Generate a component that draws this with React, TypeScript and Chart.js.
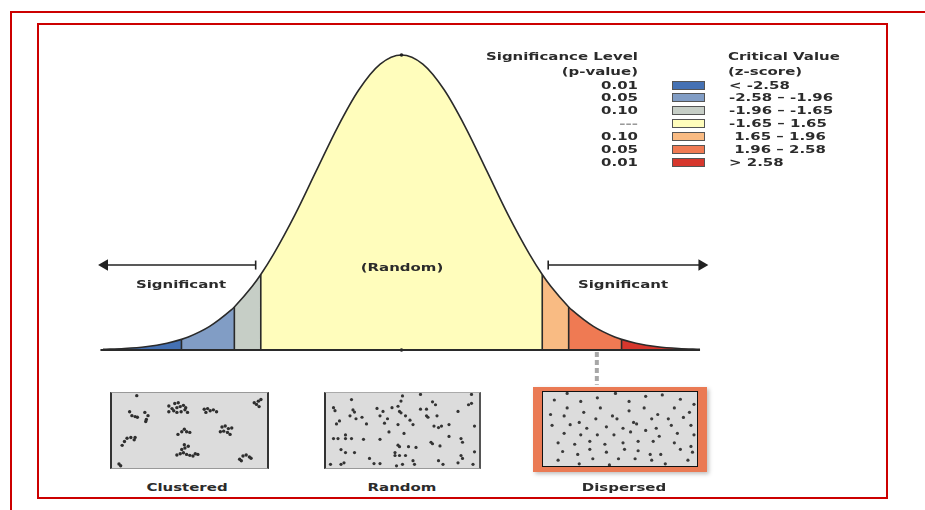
import React, { useEffect, useRef } from "react";
import { Chart, registerables } from "chart.js";
Chart.register(...registerables);

// ---------- data ----------
const zValues = [
  -3.5, -3.25, -3.0, -2.75, -2.58, -2.5, -2.25, -2.0, -1.96, -1.75, -1.65, -1.5, -1.25, -1.0, -0.75, -0.5, -0.25,
  0, 0.25, 0.5, 0.75, 1.0, 1.25, 1.5, 1.65, 1.75, 1.96, 2.0, 2.25, 2.5, 2.58, 2.75, 3.0, 3.25, 3.5,
];
const curveHeights = [
  0.002, 0.005, 0.011, 0.023, 0.036, 0.044, 0.08, 0.135, 0.146, 0.216, 0.256, 0.325, 0.458, 0.607, 0.755, 0.882, 0.969,
  1.0, 0.969, 0.882, 0.755, 0.607, 0.458, 0.325, 0.256, 0.216, 0.146, 0.135, 0.08, 0.044, 0.036, 0.023, 0.011, 0.005, 0.002,
];
const bandEdges = [-3.5, -2.58, -1.96, -1.65, 1.65, 1.96, 2.58, 3.5];
const bandColors = ["#4571b3", "#819dc5", "#c6cec6", "#fffdbc", "#f9bb83", "#ef7a53", "#d6372d"];
const pLabels = ["0.01", "0.05", "0.10", "---", "0.10", "0.05", "0.01"];
const zLabels = ["< -2.58", "-2.58 – -1.96", "-1.96 – -1.65", "-1.65 – 1.65", " 1.65 – 1.96", " 1.96 – 2.58", "> 2.58"];
const arrowLevel = 0.288;
const leftArrowZ = [-1.71, -3.48];
const rightArrowZ = [1.72, 3.52];
const connectorZ = 2.29;
const connectorLevels = [-0.007, -0.118];
const panelLabels = ["Clustered", "Random", "Dispersed"];

const clusteredPoints: number[][] = [
  [10.6, 75.4], [12.1, 70.2], [14.2, 68.9], [15.7, 68.0], [20.6, 74.6], [22.7, 70.2], [21.6, 64.9], [21.2, 62.3],
  [36.4, 83.3], [40.3, 86.8], [42.6, 87.7], [41.7, 81.1], [43.9, 82.5], [46.0, 84.2], [47.5, 81.1], [36.4, 75.4],
  [39.6, 76.8], [41.7, 74.6], [44.5, 75.4], [47.0, 78.1], [48.7, 74.6], [38.5, 79.8],
  [59.7, 79.0], [61.9, 79.8], [63.6, 76.8], [65.7, 78.1], [67.8, 75.4], [60.8, 74.6],
  [92.6, 87.7], [94.1, 85.5], [95.3, 89.9], [95.8, 82.5], [97.0, 92.1],
  [71.4, 54.8], [73.5, 56.1], [75.6, 52.6], [77.8, 53.5], [72.5, 49.1], [75.0, 47.4], [76.7, 44.7], [70.3, 48.2],
  [42.4, 44.7], [44.9, 48.2], [46.6, 51.8], [48.1, 48.2], [50.2, 47.4],
  [5.7, 29.8], [7.2, 35.1], [8.9, 39.5], [11.4, 40.4], [13.6, 37.3], [14.2, 40.4],
  [41.7, 16.7], [43.9, 18.4], [46.0, 19.7], [48.1, 17.5], [50.2, 16.2], [52.3, 15.4], [53.8, 18.4], [55.5, 17.5],
  [47.0, 26.3], [46.6, 30.7], [49.2, 28.5], [44.9, 24.1],
  [83.0, 11.0], [85.2, 15.4], [87.3, 16.7], [89.4, 14.1], [90.5, 12.3], [84.1, 8.8],
  [15.3, 97.4], [3.6, 4.4], [4.7, 2.0],
];
const randomPoints: number[][] = [
  [16, 92], [4, 81], [5, 77], [17, 78], [18, 75], [15, 70], [19, 66], [6, 59], [8, 63], [23, 68], [26, 59],
  [33, 80], [37, 76], [35, 70], [40, 66], [38, 60], [43, 81], [47, 83], [49, 90], [50, 97], [48, 76], [49, 74],
  [52, 70], [47, 58], [55, 64], [57, 58], [62, 99], [62, 79], [66, 79], [66, 70], [67, 68], [73, 70], [70, 89],
  [72, 85], [71, 56], [74, 54], [76, 56], [81, 58], [87, 76], [94, 85], [96, 87], [96, 99], [98, 56], [4, 39],
  [7, 39], [12, 39], [12, 44], [16, 39], [24, 38], [35, 38], [41, 48], [51, 46], [70, 32], [69, 34], [75, 29],
  [81, 42], [89, 39], [90, 34], [47, 30], [48, 28], [54, 28], [59, 27], [45, 20], [45, 16], [48, 16], [52, 16],
  [9, 24], [12, 20], [18, 20], [28, 12], [31, 5], [35, 5], [46, 2], [50, 4], [57, 9], [58, 4], [11, 6], [9, 4],
  [2, 4], [74, 9], [77, 4], [87, 6], [89, 16], [90, 12], [98, 21], [97, 4],
];
const dispersedPoints: number[][] = [
  [6.5, 90], [15, 99], [24, 88], [35, 93], [47, 99], [56, 88], [67, 95], [78, 97], [90, 91], [99, 84],
  [15, 79], [26, 73], [37, 79], [45, 68], [56, 75], [66, 79], [75, 70], [86, 79], [96, 73],
  [4, 70], [13, 68], [23, 59], [34, 64], [48, 64], [59, 59], [71, 64], [82, 64], [92, 66],
  [5, 55], [17, 56], [28, 51], [41, 53], [52, 51], [61, 57], [74, 51], [84, 55], [97, 55],
  [13, 44], [24, 42], [35, 42], [46, 42], [57, 46], [67, 48], [76, 40], [88, 44], [99, 42],
  [9, 31], [20, 29], [30, 33], [40, 29], [52, 31], [62, 33], [72, 33], [86, 31], [97, 26],
  [12, 19], [22, 15], [30, 22], [41, 18], [53, 22], [62, 20], [70, 15], [77, 15], [90, 22], [98, 18],
  [9, 7], [23, 2], [32, 9], [43, 0.5], [49, 9], [60, 9], [71, 7], [80, 2], [95, 7],
];

// ---------- layout helpers ----------
const FONT = "'DejaVu Sans', Verdana, sans-serif";
const SX = 1.36;

type Align = "left" | "center" | "right";
function Label({ x, y, text, align = "center", color = "#2b2b2b", size = 11 }: { x: number; y: number; text: string; align?: Align; color?: string; size?: number }) {
  const origin = align === "left" ? "left center" : align === "right" ? "right center" : "center center";
  const tx = align === "left" ? "0" : align === "right" ? "-100%" : "-50%";
  return (
    <div style={{ position: "absolute", left: x, top: y, width: 0, height: 0 }}>
      <span
        style={{
          position: "absolute",
          left: 0,
          top: 0,
          whiteSpace: "pre",
          font: `bold ${size}px ${FONT}`,
          lineHeight: "1",
          color,
          transformOrigin: origin,
          transform: `translate(${tx}, -50%) scaleX(${SX})`,
        }}
      >
        {text}
      </span>
    </div>
  );
}

// main curve canvas geometry (page px)
const C_LEFT = 40;
const C_TOP = 26;
const C_W = 845;
const C_H = 364;
const PX_PER_Z = 85.29;
const Z_AT_PAGE_103 = -3.5;
const BASE_PAGE_Y = 350;
const PEAK_PAGE_Y = 55;
const PX_PER_H = BASE_PAGE_Y - PEAK_PAGE_Y;

function CurveChart() {
  const ref = useRef<HTMLCanvasElement>(null);
  useEffect(() => {
    if (!ref.current) return;
    const pts = zValues.map((z, i) => ({ x: z, y: curveHeights[i] }));
    const bands = bandColors.map((c, i) => ({
      data: pts.filter((p) => p.x >= bandEdges[i] - 1e-9 && p.x <= bandEdges[i + 1] + 1e-9),
      backgroundColor: c,
      borderColor: c,
      borderWidth: 0,
      fill: "origin",
      pointRadius: 0,
      cubicInterpolationMode: "monotone",
      order: 10,
    }));
    const dividerData: any[] = [];
    bandEdges.slice(1, -1).forEach((b) => {
      const h = curveHeights[zValues.indexOf(b)];
      dividerData.push({ x: b, y: 0 }, { x: b, y: h }, { x: b, y: null });
    });
    const xMin = Z_AT_PAGE_103 - (103 - C_LEFT) / PX_PER_Z;
    const xMax = xMin + C_W / PX_PER_Z;
    const yMax = 1 + (PEAK_PAGE_Y - C_TOP) / PX_PER_H;
    const yMin = -(C_TOP + C_H - BASE_PAGE_Y) / PX_PER_H;
    const arrowStyle = {
      borderColor: "#222",
      borderWidth: 1.6,
      fill: false,
      pointRadius: [4.5, 5],
      pointStyle: ["line", "triangle"],
      pointBackgroundColor: "#222",
      pointBorderColor: "#222",
      pointBorderWidth: 1.6,
      order: 0,
    };
    const chart = new Chart(ref.current, {
      type: "line",
      data: {
        datasets: [
          ...bands,
          {
            data: pts,
            borderColor: "#2a2a2a",
            borderWidth: 1.6,
            fill: false,
            pointRadius: 0,
            cubicInterpolationMode: "monotone",
            order: 2,
          },
          { data: dividerData, borderColor: "#2a2a2a", borderWidth: 1.6, fill: false, pointRadius: 0, order: 1 },
          {
            data: [{ x: bandEdges[0] - 0.03, y: 0 }, { x: bandEdges[7], y: 0 }],
            borderColor: "#2a2a2a",
            borderWidth: 2,
            fill: false,
            pointRadius: 0,
            order: 0,
          },
          {
            data: [{ x: 0, y: 0 }, { x: 0, y: 1 }],
            showLine: false,
            pointRadius: 1.8,
            pointBackgroundColor: "#222",
            pointBorderWidth: 0,
            order: 0,
          },
          {
            data: [{ x: leftArrowZ[0], y: arrowLevel }, { x: leftArrowZ[1], y: arrowLevel }],
            pointRotation: [90, -90],
            ...arrowStyle,
          },
          {
            data: [{ x: rightArrowZ[0], y: arrowLevel }, { x: rightArrowZ[1], y: arrowLevel }],
            pointRotation: [90, 90],
            ...arrowStyle,
          },
          {
            data: [{ x: connectorZ, y: connectorLevels[0] }, { x: connectorZ, y: connectorLevels[1] }],
            borderColor: "#a7a7a7",
            borderWidth: 4,
            borderDash: [5, 3],
            fill: false,
            pointRadius: 0,
            order: 0,
          },
        ] as any,
      },
      options: {
        animation: false,
        responsive: false,
        events: [],
        layout: { padding: 0, autoPadding: false },
        plugins: { legend: { display: false }, tooltip: { enabled: false } },
        scales: {
          x: { type: "linear", min: xMin, max: xMax, display: false },
          y: { type: "linear", min: yMin, max: yMax, display: false },
        },
      },
    });
    return () => chart.destroy();
  }, []);
  return (
    <canvas
      ref={ref}
      width={C_W}
      height={C_H}
      style={{ position: "absolute", left: C_LEFT, top: C_TOP, width: C_W, height: C_H }}
    />
  );
}

function DotPanel({ points, w, h, radius, color }: { points: number[][]; w: number; h: number; radius: number; color: string }) {
  const ref = useRef<HTMLCanvasElement>(null);
  useEffect(() => {
    if (!ref.current) return;
    const chart = new Chart(ref.current, {
      type: "scatter",
      data: {
        datasets: [
          {
            data: points.map(([x, y]) => ({ x, y })),
            pointRadius: radius,
            pointBackgroundColor: color,
            pointBorderWidth: 0,
          },
        ],
      },
      options: {
        animation: false,
        responsive: false,
        events: [],
        layout: { padding: 0, autoPadding: false },
        plugins: { legend: { display: false }, tooltip: { enabled: false } },
        scales: {
          x: { type: "linear", min: -1, max: 101, display: false },
          y: { type: "linear", min: -1, max: 101, display: false },
        },
      },
    });
    return () => chart.destroy();
  }, []);
  return <canvas ref={ref} width={w} height={h} style={{ display: "block", width: w, height: h, background: "#dcdcdc" }} />;
}

export default function App() {
  const rowY = (i: number) => 84.5 + i * 12.9;
  return (
    <div style={{ position: "fixed", left: 0, top: 0, width: 925, height: 510, overflow: "hidden", background: "#fff" }}>
      <div style={{ position: "absolute", left: 10, top: 11, width: 960, height: 560, border: "2.5px solid #cc0000" }} />
      <div style={{ position: "absolute", left: 37, top: 23, width: 847, height: 472, border: "2.5px solid #cc0000" }} />

      <CurveChart />

      {/* legend */}
      <Label x={638} y={56} text="Significance Level" align="right" />
      <Label x={638} y={71} text="(p-value)" align="right" />
      <Label x={728} y={56} text="Critical Value" align="left" />
      <Label x={728} y={71} text="(z-score)" align="left" />
      {pLabels.map((t, i) => (
        <Label key={"p" + i} x={638} y={rowY(i)} text={t} align="right" color={t === "---" ? "#999" : "#2b2b2b"} />
      ))}
      {bandColors.map((c, i) => (
        <div
          key={"s" + i}
          style={{
            position: "absolute",
            left: 672,
            top: rowY(i) - 4,
            width: 31,
            height: 7,
            background: c,
            border: "1px solid #555",
          }}
        />
      ))}
      {zLabels.map((t, i) => (
        <Label key={"z" + i} x={729} y={rowY(i)} text={t} align="left" />
      ))}

      <Label x={402} y={267} text="(Random)" />
      <Label x={181} y={284} text="Significant" />
      <Label x={623} y={284} text="Significant" />

      {/* panels */}
      <div style={{ position: "absolute", left: 110, top: 392, borderLeft: "2px solid #333", borderRight: "2px solid #333", borderTop: "1px solid #999", borderBottom: "1px solid #999" }}>
        <DotPanel points={clusteredPoints} w={155} h={75} radius={1.7} color="#2e2e2e" />
      </div>
      <div style={{ position: "absolute", left: 324, top: 392, borderLeft: "2px solid #333", borderRight: "2px solid #555", borderTop: "1px solid #aaa", borderBottom: "1px solid #999" }}>
        <DotPanel points={randomPoints} w={153} h={75} radius={1.6} color="#333" />
      </div>
      <div
        style={{
          position: "absolute",
          left: 533,
          top: 387,
          width: 174,
          height: 85,
          background: "#ea7a54",
          boxShadow: "2px 2px 4px rgba(0,0,0,0.25)",
        }}
      >
        <div style={{ position: "absolute", left: 9, top: 4, border: "1.5px solid #111" }}>
          <DotPanel points={dispersedPoints} w={154} h={74} radius={1.6} color="#3a3a3a" />
        </div>
      </div>

      <Label x={187} y={487} text={panelLabels[0]} />
      <Label x={402} y={487} text={panelLabels[1]} />
      <Label x={624} y={487} text={panelLabels[2]} />
    </div>
  );
}
